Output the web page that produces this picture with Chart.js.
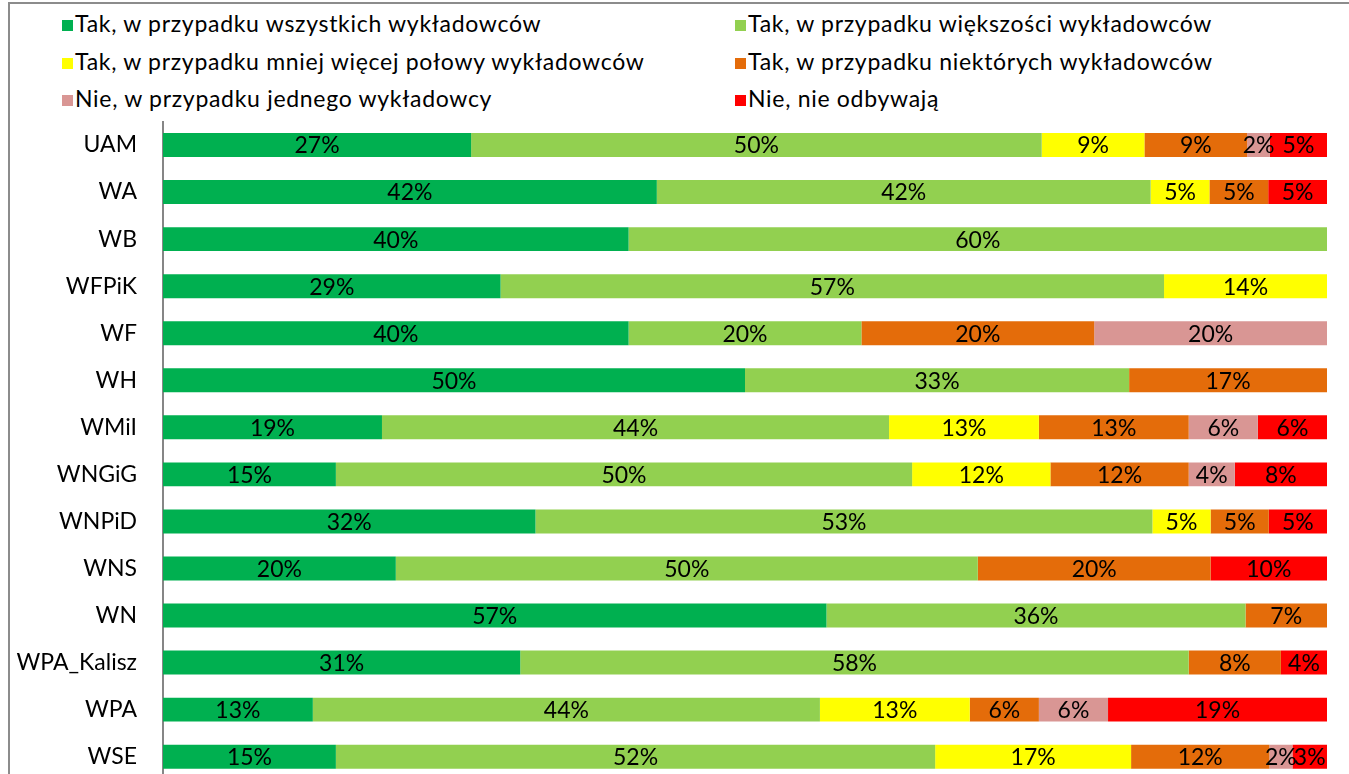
<!DOCTYPE html>
<html>
<head>
<meta charset="utf-8">
<script src="https://cdn.jsdelivr.net/npm/chart.js@4"></script>
<style>
  body { margin: 0; background: #fff; overflow: hidden; font-family: Lato, sans-serif; }
  #wrap { position: relative; width: 1349px; height: 774px; overflow: hidden; }
  #frame { position: absolute; left: 8px; top: 2px; right: -4px; bottom: -4px;
           border-left: 2px solid #8c8c8c; border-top: 2px solid #8c8c8c; }
  #legend { position: absolute; left: 0; top: 0; width: 1349px; height: 120px; }
  .item { position: absolute; font-size: 23px; letter-spacing: 0.7px; color: #000; white-space: nowrap; line-height: 26px; }
  .item span.box { display: inline-block; width: 11px; height: 11px; margin-right: 2px; vertical-align: 1px; }
  #box { position: absolute; left: 0; top: 0; width: 1349px; height: 820px; }
</style>
</head>
<body>
<div id="wrap">
  <div id="frame"></div>
  <div id="legend"></div>
  <div id="box"><canvas id="cv"></canvas></div>
</div>
<script>
// faculties (top to bottom)
const categories = ['UAM', 'WA', 'WB', 'WFPiK', 'WF', 'WH', 'WMiI', 'WNGiG', 'WNPiD', 'WNS', 'WN', 'WPA_Kalisz', 'WPA', 'WSE'];

// answers, % of respondents per faculty
const allLecturers  = [27, 42, 40, 29, 40, 50, 19, 15, 32, 20, 57, 31, 13, 15];
const mostLecturers = [50, 42, 60, 57, 20, 33, 44, 50, 53, 50, 36, 58, 44, 52];
const halfLecturers = [ 9,  5,  0, 14,  0,  0, 13, 12,  5,  0,  0,  0, 13, 17];
const someLecturers = [ 9,  5,  0,  0, 20, 17, 13, 12,  5, 20,  7,  8,  6, 12];
const oneLecturer   = [ 2,  0,  0,  0, 20,  0,  6,  4,  0,  0,  0,  0,  6,  2];
const noneAtAll     = [ 5,  5,  0,  0,  0,  0,  6,  8,  5, 10,  0,  4, 19,  3];

const seriesNames = [
  'Tak, w przypadku wszystkich wykładowców',
  'Tak, w przypadku większości wykładowców',
  'Tak, w przypadku mniej więcej połowy wykładowców',
  'Tak, w przypadku niektórych wykładowców',
  'Nie, w przypadku jednego wykładowcy',
  'Nie, nie odbywają'
];
const seriesValues = [allLecturers, mostLecturers, halfLecturers, someLecturers, oneLecturer, noneAtAll];
const seriesColors = ['#00B050', '#92D050', '#FFFF00', '#E46C0A', '#D99694', '#FF0000'];

// 100% stacked: each row is scaled to its own total
const rowTotals = categories.map((c, i) => seriesValues.reduce((s, arr) => s + arr[i], 0));

const datasets = seriesValues.map((vals, k) => ({
  label: seriesNames[k],
  data: vals.map((v, i) => v / rowTotals[i] * 100),
  raw: vals,
  backgroundColor: seriesColors[k],
  borderWidth: 0,
  barPercentage: 0.51,
  categoryPercentage: 1
}));

// legend in two columns
const legendPos = [[62, 10], [735, 10], [62, 48], [735, 48], [62, 85], [735, 85]];
const legendEl = document.getElementById('legend');
seriesNames.forEach((name, k) => {
  const d = document.createElement('div');
  d.className = 'item';
  d.style.left = legendPos[k][0] + 'px';
  d.style.top = legendPos[k][1] + 'px';
  d.innerHTML = '<span class="box" style="background:' + seriesColors[k] + '"></span>' + name;
  legendEl.appendChild(d);
});

// percentage labels in the middle of each segment
const segmentLabels = {
  id: 'segmentLabels',
  afterDatasetsDraw(chart) {
    const ctx = chart.ctx;
    ctx.save();
    ctx.font = '23px Lato';
    ctx.fillStyle = '#000';
    ctx.textAlign = 'center';
    ctx.textBaseline = 'middle';
    chart.data.datasets.forEach((ds, k) => {
      chart.getDatasetMeta(k).data.forEach((bar, i) => {
        const v = ds.raw[i];
        if (!v) return;
        const cx = (bar.x + bar.base) / 2;
        ctx.fillText(v + '%', cx, bar.y + 1);
      });
    });
    ctx.restore();
  }
};

new Chart(document.getElementById('cv'), {
  type: 'bar',
  data: { labels: categories, datasets: datasets },
  options: {
    indexAxis: 'y',
    responsive: true,
    maintainAspectRatio: false,
    animation: false,
    layout: { padding: { top: 121.5, bottom: 8.5, left: 0, right: 22 } },
    plugins: { legend: { display: false }, tooltip: { enabled: false } },
    scales: {
      x: { stacked: true, min: 0, max: 100, display: false },
      y: {
        stacked: true,
        afterFit(scale) { scale.width = 163; },
        grid: { display: false, drawTicks: false },
        border: { display: true, color: '#868686', width: 2 },
        ticks: { color: '#000', font: { family: 'Lato', size: 23 }, padding: 26 }
      }
    }
  },
  plugins: [segmentLabels]
});
</script>
</body>
</html>
